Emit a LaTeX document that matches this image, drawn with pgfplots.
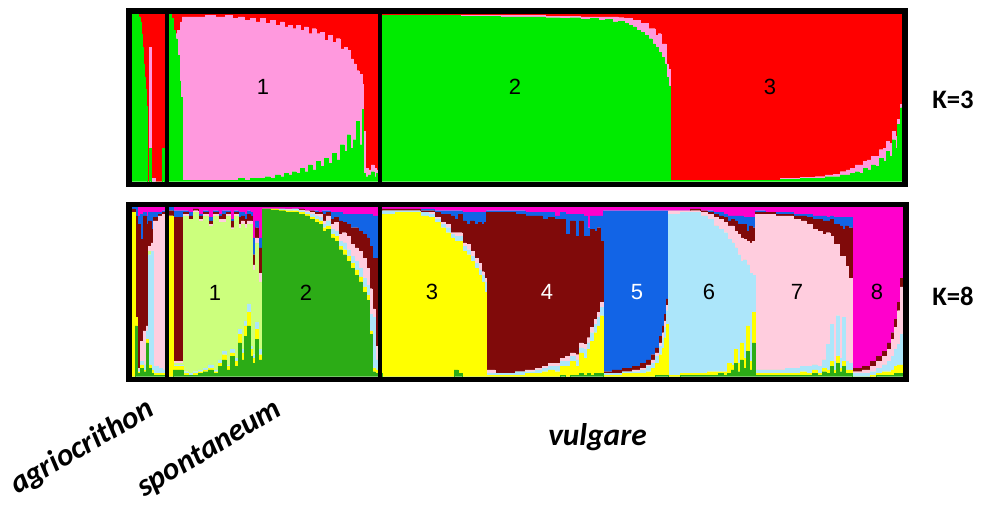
\documentclass[border=0pt]{standalone}
\usepackage{pgfplots}
\pgfplotsset{compat=1.18}
\usepackage{pgfplotstable}
\usepackage{fontspec}
\setmainfont{Liberation Sans}
\newfontfamily\carlito{Carlito}

% K=3 cluster colours
\definecolor{kA}{RGB}{0,235,0}
\definecolor{kB}{RGB}{255,153,222}
\definecolor{kC}{RGB}{255,0,0}
% K=8 cluster colours
\definecolor{q1}{RGB}{204,255,125}
\definecolor{q2}{RGB}{44,172,22}
\definecolor{q3}{RGB}{255,255,0}
\definecolor{q4}{RGB}{128,10,10}
\definecolor{q5}{RGB}{18,100,230}
\definecolor{q6}{RGB}{172,230,250}
\definecolor{q7}{RGB}{255,205,222}
\definecolor{q8}{RGB}{255,0,204}

% membership coefficients, K=3 (individuals ordered along x)
\pgfplotstableread{
x g p r
131 1.00 0 0
138 .98 0 .02
140 .95 0 .05
141 .88 0 .12
142 .80 0 .20
143 .70 0 .30
144 .62 0 .38
145 .55 0 .45
146 .45 0 .55
147 0 0 1
149 .20 .60 .20
151 0 .02 .98
155 0 0 1
162 .20 0 .80
164 0 0 1
168 1 0 0
171 .97 0 .03
173 .90 0 .10
175 .85 .03 .12
177 .75 .15 .10
179 .60 .30 .10
180.5 .50 .45 .05
182 .01 .97 .02
195 .01 .97 .02
205 .01 .98 .01
215 .01 .97 .02
225 .01 .98 .01
232 .01 .96 .03
238 .02 .96 .02
244 .01 .95 .04
250 .02 .95 .03
255 .02 .93 .05
260 .02 .95 .03
265 .03 .91 .06
270 .02 .94 .04
275 .04 .89 .07
280 .03 .92 .05
284 .05 .87 .08
288 .04 .89 .07
292 .06 .85 .09
296 .05 .88 .07
300 .08 .82 .10
304 .06 .86 .08
308 .10 .78 .12
312 .07 .84 .09
316 .12 .76 .12
320 .09 .80 .11
324 .14 .70 .16
328 .11 .76 .13
332 .17 .66 .17
336 .13 .72 .15
340 .22 .57 .21
344 .18 .62 .20
347 .28 .50 .22
350 .20 .53 .27
353 .25 .45 .30
356 .36 .30 .34
359 .22 .42 .36
362 .43 .15 .42
363 .05 .25 .70
365 .03 .05 .92
368 .04 .03 .93
371 .06 .04 .90
374 .03 .05 .92
376 .05 .02 .93
382 .99 .00 .01
420 .99 .00 .01
460 .985 .005 .01
500 .98 .01 .01
530 .98 .01 .01
545 .975 .01 .015
560 .97 .015 .015
570 .975 .01 .015
580 .965 .015 .02
590 .97 .01 .02
598 .96 .02 .02
605 .965 .015 .02
612 .95 .03 .02
618 .955 .02 .025
624 .94 .03 .03
628 .93 .04 .03
632 .92 .04 .04
636 .90 .06 .04
640 .89 .05 .06
644 .87 .07 .06
648 .85 .06 .09
652 .82 .09 .09
655 .80 .07 .13
658 .77 .11 .12
661 .74 .08 .18
664 .70 .12 .18
666 .62 .08 .30
668 .57 .10 .33
670 .01 .00 .99
700 .01 .00 .99
740 .01 .00 .99
780 .015 .005 .98
800 .02 .005 .975
815 .02 .01 .97
825 .03 .01 .96
833 .03 .015 .955
840 .04 .02 .94
846 .04 .03 .93
850 .05 .03 .92
855 .06 .04 .90
859 .05 .05 .90
863 .08 .04 .88
867 .07 .06 .87
871 .10 .05 .85
875 .09 .06 .85
879 .14 .05 .81
883 .12 .08 .80
886 .18 .06 .76
889 .15 .08 .77
892 .25 .05 .70
895 .20 .07 .73
897 .34 .03 .63
899 .28 .05 .67
900.5 .44 .02 .54
902 .44 .02 .54
}\kthree

% membership coefficients, K=8 (columns in stacking order)
\pgfplotstableread{
x c2 c3 c6 c1 c7 c4 c5 c8
131 .00 .97 .00 .00 .00 .02 .01 .00
135 .30 .05 .00 .00 .00 .60 .05 .00
137 .02 .01 .01 .00 .01 .85 .05 .05
140 .05 .02 .02 .00 .12 .60 .15 .04
143 .03 .01 .03 .00 .20 .68 .02 .03
146 .20 .02 .05 .00 .03 .60 .05 .05
148 .05 .02 .65 .02 .03 .15 .05 .03
151 .02 .02 .70 .00 .05 .08 .10 .03
153 .01 .01 .04 .00 .86 .02 .03 .03
158 .01 .01 .03 .00 .90 .01 .01 .03
162 .01 .01 .02 .00 .92 .01 .01 .02
168 .00 .95 .00 .00 .00 .03 .02 .00
173 .04 .02 .01 .01 .01 .85 .04 .02
183 .01 .01 .01 .92 .01 .01 .01 .02
188 .01 .00 .01 .91 .00 .02 .02 .03
193 .01 .01 .01 .94 .01 .01 .00 .01
198 .02 .01 .01 .88 .01 .02 .01 .04
203 .03 .01 .01 .90 .01 .01 .01 .02
208 .04 .01 .02 .82 .01 .02 .02 .06
213 .02 .01 .01 .91 .01 .01 .01 .02
218 .06 .02 .02 .81 .02 .02 .01 .04
222 .10 .03 .02 .76 .02 .03 .02 .02
226 .04 .02 .01 .88 .01 .01 .01 .02
230 .12 .02 .02 .71 .01 .04 .01 .07
234 .06 .03 .02 .84 .01 .01 .01 .02
238 .20 .05 .03 .60 .02 .04 .03 .03
241 .10 .04 .02 .74 .02 .03 .02 .03
244 .24 .06 .03 .55 .02 .03 .03 .04
247 .30 .08 .05 .47 .02 .04 .02 .02
250 .12 .04 .02 .72 .02 .03 .02 .03
252 .08 .03 .02 .50 .03 .06 .10 .18
255 .22 .06 .04 .47 .03 .06 .04 .08
258 .10 .03 .03 .40 .05 .15 .06 .18
262 .99 .00 .00 .00 .00 .00 .00 .01
270 .985 .005 .00 .00 .00 .00 .00 .01
278 .98 .005 .005 .00 .00 .00 .00 .01
285 .97 .01 .005 .00 .005 .00 .00 .01
292 .97 .01 .01 .00 .00 .00 .00 .01
298 .96 .01 .01 .00 .005 .005 .00 .01
304 .95 .01 .01 .00 .01 .00 .00 .02
309 .93 .01 .02 .00 .01 .01 .00 .02
314 .91 .02 .02 .00 .01 .01 .01 .02
318 .90 .02 .02 .00 .02 .01 .00 .03
322 .86 .02 .02 .00 .02 .04 .02 .02
326 .87 .02 .03 .00 .03 .02 .01 .02
330 .82 .02 .03 .00 .03 .03 .04 .03
334 .80 .03 .03 .00 .05 .03 .03 .03
338 .75 .02 .03 .00 .04 .08 .05 .03
342 .72 .03 .04 .00 .06 .06 .05 .04
346 .68 .03 .04 .00 .08 .07 .06 .04
350 .64 .03 .04 .00 .07 .10 .08 .04
354 .60 .03 .05 .00 .08 .12 .08 .04
358 .56 .03 .05 .00 .10 .12 .10 .04
362 .50 .03 .05 .00 .12 .14 .12 .04
366 .45 .03 .06 .00 .10 .18 .14 .04
369 .25 .02 .10 .00 .15 .25 .19 .04
372 .03 .02 .30 .00 .05 .30 .25 .05
375 .02 .02 .06 .00 .08 .52 .25 .05
382 .00 .96 .02 .00 .00 .01 .00 .01
395 .00 .97 .01 .00 .00 .01 .00 .01
410 .00 .97 .01 .00 .00 .01 .00 .01
420 .00 .95 .02 .00 .00 .01 .01 .01
428 .00 .94 .02 .00 .01 .01 .01 .01
434 .00 .91 .02 .00 .01 .03 .01 .02
440 .00 .88 .02 .00 .01 .05 .02 .02
445 .00 .85 .03 .00 .02 .06 .02 .02
450 .00 .82 .02 .00 .01 .10 .03 .02
454 .04 .76 .03 .00 .02 .08 .05 .02
458 .02 .78 .03 .00 .02 .11 .02 .02
462 .00 .74 .03 .00 .02 .13 .05 .03
466 .00 .72 .03 .00 .03 .12 .07 .03
470 .00 .68 .03 .00 .03 .18 .05 .03
474 .00 .64 .03 .00 .03 .20 .07 .03
478 .00 .60 .03 .00 .04 .24 .06 .03
481 .00 .56 .04 .00 .02 .28 .07 .03
484 .00 .50 .06 .00 .02 .33 .06 .03
486 .00 .01 .01 .00 .02 .93 .01 .02
495 .00 .01 .01 .00 .00 .95 .01 .02
505 .00 .01 .01 .00 .00 .95 .01 .02
515 .00 .01 .02 .00 .00 .93 .02 .02
525 .00 .02 .01 .00 .01 .91 .02 .03
535 .00 .02 .02 .00 .01 .90 .02 .03
542 .00 .03 .02 .00 .01 .87 .04 .03
548 .00 .04 .02 .00 .02 .86 .03 .03
554 .00 .03 .03 .00 .02 .85 .02 .05
560 .01 .05 .03 .00 .02 .82 .04 .03
565 .00 .06 .03 .00 .03 .72 .12 .04
570 .01 .08 .03 .00 .02 .78 .04 .04
575 .01 .05 .04 .00 .03 .70 .13 .04
579 .02 .12 .03 .00 .03 .72 .04 .04
583 .01 .10 .05 .00 .03 .64 .12 .05
587 .02 .14 .04 .00 .03 .60 .05 .12
590 .01 .20 .05 .00 .03 .58 .08 .05
594 .02 .24 .05 .00 .03 .52 .09 .05
597 .02 .28 .05 .00 .03 .50 .07 .05
600 .02 .34 .05 .00 .03 .36 .15 .05
603 .00 .01 .01 .00 .00 .01 .95 .02
612 .00 .01 .01 .00 .00 .02 .94 .02
622 .00 .02 .01 .00 .00 .02 .93 .02
632 .00 .02 .01 .00 .01 .02 .92 .02
640 .00 .02 .02 .00 .01 .03 .90 .02
646 .00 .03 .03 .00 .01 .03 .88 .02
651 .00 .05 .03 .00 .02 .03 .85 .02
655 .01 .07 .04 .00 .02 .03 .81 .02
659 .01 .12 .05 .00 .02 .04 .74 .02
662 .01 .16 .06 .00 .03 .04 .68 .02
664 .01 .22 .06 .00 .04 .04 .61 .02
666 .01 .30 .08 .00 .03 .04 .52 .02
668 .00 .01 .95 .00 .02 .00 .00 .02
680 .01 .01 .95 .00 .01 .00 .00 .02
690 .01 .01 .95 .00 .01 .01 .00 .01
700 .01 .01 .93 .00 .02 .01 .00 .02
707 .01 .02 .90 .00 .03 .01 .01 .02
713 .01 .02 .86 .00 .05 .02 .01 .03
718 .02 .01 .84 .00 .06 .02 .02 .03
723 .01 .02 .82 .00 .06 .03 .02 .04
727 .02 .06 .73 .00 .08 .03 .03 .05
731 .04 .03 .72 .00 .10 .04 .02 .05
734 .08 .08 .60 .00 .10 .06 .03 .05
737 .03 .05 .64 .00 .12 .06 .05 .05
740 .10 .10 .48 .00 .14 .08 .05 .05
743 .05 .06 .58 .00 .12 .09 .04 .06
746 .15 .15 .36 .00 .14 .06 .08 .06
749 .04 .05 .52 .00 .18 .10 .05 .06
752 .20 .18 .22 .00 .20 .08 .06 .06
755 .01 .01 .02 .00 .92 .01 .01 .02
765 .01 .01 .02 .00 .92 .01 .00 .03
775 .01 .01 .02 .00 .91 .01 .01 .03
785 .01 .01 .03 .00 .90 .01 .01 .03
793 .01 .01 .03 .00 .88 .02 .01 .04
800 .01 .02 .03 .00 .86 .03 .01 .04
806 .01 .01 .04 .00 .84 .04 .02 .04
812 .02 .02 .03 .00 .80 .06 .02 .05
817 .01 .01 .04 .00 .80 .07 .02 .05
822 .03 .02 .05 .00 .74 .08 .03 .05
826 .02 .02 .15 .00 .66 .07 .02 .06
830 .06 .03 .22 .00 .52 .10 .02 .05
833 .02 .02 .05 .00 .69 .12 .04 .06
836 .08 .04 .24 .00 .42 .12 .04 .06
839 .03 .02 .06 .00 .60 .18 .05 .06
842 .06 .03 .26 .00 .36 .16 .07 .06
845 .02 .02 .05 .00 .56 .24 .05 .06
848 .02 .02 .04 .00 .50 .30 .06 .06
852 .00 .00 .02 .00 .01 .02 .00 .95
862 .00 .00 .02 .00 .02 .02 .00 .94
870 .00 .01 .02 .00 .03 .03 .00 .91
876 .01 .01 .03 .00 .04 .03 .00 .88
882 .01 .02 .04 .00 .05 .03 .00 .85
887 .01 .02 .06 .00 .07 .04 .00 .80
891 .01 .03 .08 .00 .10 .04 .00 .74
894 .02 .04 .10 .00 .13 .05 .00 .66
897 .02 .05 .12 .00 .20 .05 .00 .56
900 .02 .05 .18 .00 .28 .05 .00 .42
903.5 .02 .05 .18 .00 .28 .05 .00 .42
}\keight

\pgfplotsset{
  admix/.style={
    scale only axis, hide axis, clip=true,
    xmin=131.5, ymin=0, ymax=1,
    stack plots=y,
    every axis plot/.append style={const plot mark left, line width=0.15pt, mark=none},
  },
}
\newcommand{\cl}[3]{\addplot[fill=#1, draw=#1] table[x=x, y=#2] {#3} \closedcycle;}
\newcommand{\numlab}{\fontsize{16.5}{18}\selectfont}

\begin{document}
\begin{tikzpicture}
% bounding box of the whole figure
\path (0pt,0pt) rectangle (744.75pt,381pt);

% K = 3
\begin{axis}[admix, at={(98.625pt,244.725pt)}, anchor=south west,
  width=577.875pt, height=126.15pt, xmax=902]
  \cl{kA}{g}{\kthree}
  \cl{kB}{p}{\kthree}
  \cl{kC}{r}{\kthree}
\end{axis}

% K = 8
\begin{axis}[admix, at={(98.625pt,98.475pt)}, anchor=south west,
  width=579pt, height=127.05pt, xmax=903.5]
  \cl{q2}{c2}{\keight}
  \cl{q3}{c3}{\keight}
  \cl{q6}{c6}{\keight}
  \cl{q1}{c1}{\keight}
  \cl{q7}{c7}{\keight}
  \cl{q4}{c4}{\keight}
  \cl{q5}{c5}{\keight}
  \cl{q8}{c8}{\keight}
\end{axis}

% frames, group separators and labels, in pixel units
\begin{scope}[x=0.75pt, y=-0.75pt, yshift=381pt]
  \draw[line width=4.3pt] (128.65,10.65) rectangle (904.85,184.55);
  \draw[line width=4.3pt] (128.65,204.45) rectangle (906.35,379.55);
  \draw[line width=2.7pt] (166.8,13.5) -- (166.8,181.7);
  \draw[line width=3pt] (380.4,13.5) -- (380.4,181.7);
  \draw[line width=2.7pt] (166.8,207.3) -- (166.8,376.7);
  \draw[line width=3pt] (380.4,207.3) -- (380.4,376.7);
  % cluster numbers
  \node[font=\numlab] at (263,86.5) {1};
  \node[font=\numlab] at (515,86.5) {2};
  \node[font=\numlab] at (770,86.5) {3};
  \node[font=\numlab] at (215,293) {1};
  \node[font=\numlab] at (306,293) {2};
  \node[font=\numlab] at (432,292) {3};
  \node[font=\numlab, text=white] at (547,292) {4};
  \node[font=\numlab, text=white] at (637,292) {5};
  \node[font=\numlab] at (709,292) {6};
  \node[font=\numlab] at (797,292) {7};
  \node[font=\numlab] at (877,292) {8};
  \node[font=\carlito\bfseries\fontsize{20}{22}\selectfont] at (953,100) {K=3};
  \node[font=\carlito\bfseries\fontsize{20}{22}\selectfont] at (953,296) {K=8};
  \node[font=\carlito\bfseries\itshape\fontsize{23.5}{26}\selectfont, anchor=base west, rotate=30, inner sep=0pt] at (17,495) {agriocrithon};
  \node[font=\carlito\bfseries\itshape\fontsize{23.5}{26}\selectfont, anchor=base west, rotate=31, inner sep=0pt] at (144,498) {spontaneum};
  \node[font=\carlito\bfseries\itshape\fontsize{23.5}{26}\selectfont, anchor=base west, inner sep=0pt] at (548,445) {vulgare};
\end{scope}
\end{tikzpicture}
\end{document}
